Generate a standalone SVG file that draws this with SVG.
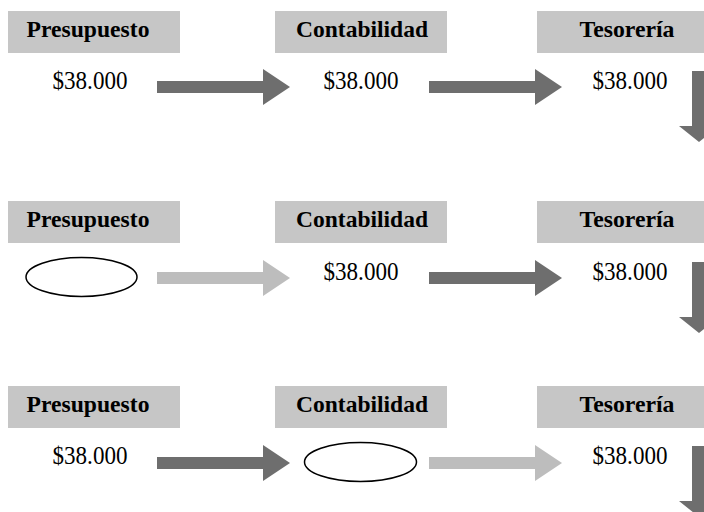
<svg xmlns="http://www.w3.org/2000/svg" width="704" height="512" viewBox="0 0 704 512">
<defs>
<style>
.box{fill:#c6c6c6}
.lbl{font-family:"Liberation Serif","Times New Roman",serif;font-weight:bold;font-size:23px;fill:#000;text-anchor:middle}
.val{font-family:"Liberation Serif","Times New Roman",serif;font-size:25px;fill:#000;text-anchor:middle}
.dark{fill:#6e6e6e}
.light{fill:#bdbdbd}
.ell{fill:#fff;stroke:#000;stroke-width:1.5}
</style>
<path id="arrH" d="M0,-6 H106 V-18 L133,0 L106,18 V6 H0 Z"/>
<path id="arrV" d="M-7,0 V55 H-20 L0,71 L20,55 H7 V0 Z"/>
</defs>
<rect width="704" height="512" fill="#fff"/>

<!-- Row 1 -->
<g id="r1-presupuesto">
<rect class="box" x="8" y="11" width="172" height="42"/>
<text class="lbl" x="88" y="37" textLength="123" lengthAdjust="spacingAndGlyphs">Presupuesto</text>
<text class="val" x="90" y="89" textLength="75" lengthAdjust="spacingAndGlyphs">$38.000</text>
</g>
<g id="r1-contabilidad">
<rect class="box" x="275" y="11" width="172" height="42"/>
<text class="lbl" x="362" y="37" textLength="132" lengthAdjust="spacingAndGlyphs">Contabilidad</text>
<text class="val" x="361" y="89" textLength="75" lengthAdjust="spacingAndGlyphs">$38.000</text>
</g>
<g id="r1-tesoreria">
<rect class="box" x="537" y="11" width="172" height="42"/>
<text class="lbl" x="627" y="37" textLength="95" lengthAdjust="spacingAndGlyphs">Tesorería</text>
<text class="val" x="630" y="89" textLength="75" lengthAdjust="spacingAndGlyphs">$38.000</text>
</g>

<!-- Row 2 -->
<g id="r2-presupuesto">
<rect class="box" x="8" y="201" width="172" height="42"/>
<text class="lbl" x="88" y="227" textLength="123" lengthAdjust="spacingAndGlyphs">Presupuesto</text>
<ellipse class="ell" cx="81.5" cy="277" rx="55.5" ry="19.5"/>
</g>
<g id="r2-contabilidad">
<rect class="box" x="275" y="201" width="172" height="42"/>
<text class="lbl" x="362" y="227" textLength="132" lengthAdjust="spacingAndGlyphs">Contabilidad</text>
<text class="val" x="361" y="280" textLength="75" lengthAdjust="spacingAndGlyphs">$38.000</text>
</g>
<g id="r2-tesoreria">
<rect class="box" x="537" y="201" width="172" height="42"/>
<text class="lbl" x="627" y="227" textLength="95" lengthAdjust="spacingAndGlyphs">Tesorería</text>
<text class="val" x="630" y="280" textLength="75" lengthAdjust="spacingAndGlyphs">$38.000</text>
</g>

<!-- Row 3 -->
<g id="r3-presupuesto">
<rect class="box" x="8" y="386" width="172" height="42"/>
<text class="lbl" x="88" y="412" textLength="123" lengthAdjust="spacingAndGlyphs">Presupuesto</text>
<text class="val" x="90" y="464" textLength="75" lengthAdjust="spacingAndGlyphs">$38.000</text>
</g>
<g id="r3-contabilidad">
<rect class="box" x="275" y="386" width="172" height="42"/>
<text class="lbl" x="362" y="412" textLength="132" lengthAdjust="spacingAndGlyphs">Contabilidad</text>
<ellipse class="ell" cx="360.5" cy="462" rx="56" ry="19.5"/>
</g>
<g id="r3-tesoreria">
<rect class="box" x="537" y="386" width="172" height="42"/>
<text class="lbl" x="627" y="412" textLength="95" lengthAdjust="spacingAndGlyphs">Tesorería</text>
<text class="val" x="630" y="464" textLength="75" lengthAdjust="spacingAndGlyphs">$38.000</text>
</g>

<g id="connectors">
<use href="#arrH" class="dark" x="157" y="87"/>
<use href="#arrH" class="dark" x="429" y="87"/>
<use href="#arrV" class="dark" x="699" y="71"/>

<use href="#arrH" class="light" x="157" y="278"/>
<use href="#arrH" class="dark" x="429" y="278"/>
<use href="#arrV" class="dark" x="699" y="262"/>

<use href="#arrH" class="dark" x="157" y="463"/>
<use href="#arrH" class="light" x="429" y="463"/>
<use href="#arrV" class="dark" x="699" y="446"/>
</g>
</svg>
